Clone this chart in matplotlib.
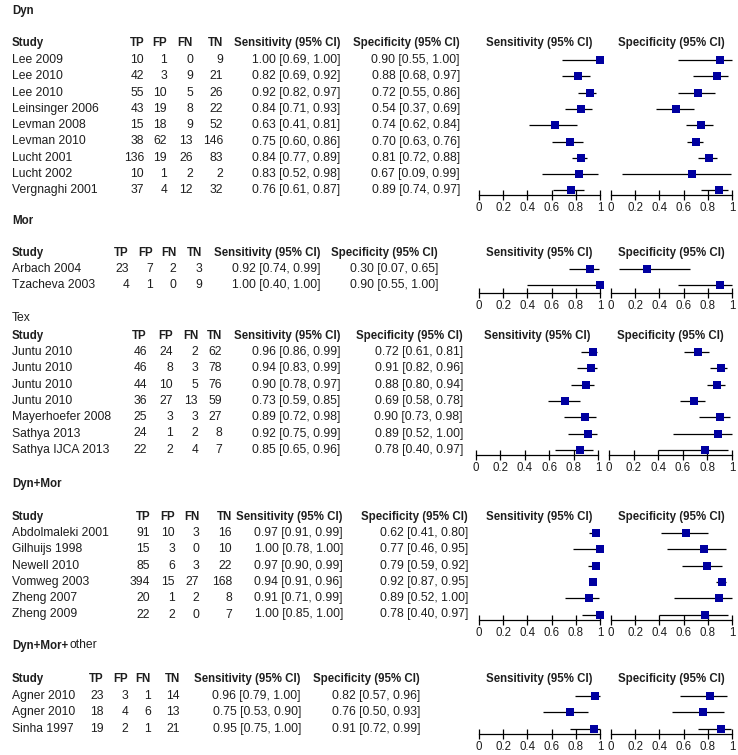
import matplotlib
matplotlib.use('Agg')
import matplotlib.pyplot as plt

plt.rcParams['font.family'] = ['Liberation Sans', 'DejaVu Sans']

# ---------------- data ----------------
dyn_study = ['Lee 2009', 'Lee 2010', 'Lee 2010', 'Leinsinger 2006', 'Levman 2008',
             'Levman 2010', 'Lucht 2001', 'Lucht 2002', 'Vergnaghi 2001']
dyn_tp = [10, 42, 55, 43, 15, 38, 136, 10, 37]
dyn_fp = [1, 3, 10, 19, 18, 62, 19, 1, 4]
dyn_fn = [0, 9, 5, 8, 9, 13, 26, 2, 12]
dyn_tn = [9, 21, 26, 22, 52, 146, 83, 2, 32]
dyn_sens = [1.00, 0.82, 0.92, 0.84, 0.63, 0.75, 0.84, 0.83, 0.76]
dyn_sens_lo = [0.69, 0.69, 0.82, 0.71, 0.41, 0.60, 0.77, 0.52, 0.61]
dyn_sens_hi = [1.00, 0.92, 0.97, 0.93, 0.81, 0.86, 0.89, 0.98, 0.87]
dyn_spec = [0.90, 0.88, 0.72, 0.54, 0.74, 0.70, 0.81, 0.67, 0.89]
dyn_spec_lo = [0.55, 0.68, 0.55, 0.37, 0.62, 0.63, 0.72, 0.09, 0.74]
dyn_spec_hi = [1.00, 0.97, 0.86, 0.69, 0.84, 0.76, 0.88, 0.99, 0.97]

mor_study = ['Arbach 2004', 'Tzacheva 2003']
mor_tp = [23, 4]
mor_fp = [7, 1]
mor_fn = [2, 0]
mor_tn = [3, 9]
mor_sens = [0.92, 1.00]
mor_sens_lo = [0.74, 0.40]
mor_sens_hi = [0.99, 1.00]
mor_spec = [0.30, 0.90]
mor_spec_lo = [0.07, 0.55]
mor_spec_hi = [0.65, 1.00]

tex_study = ['Juntu 2010', 'Juntu 2010', 'Juntu 2010', 'Juntu 2010',
             'Mayerhoefer 2008', 'Sathya 2013', 'Sathya IJCA 2013']
tex_tp = [46, 46, 44, 36, 25, 24, 22]
tex_fp = [24, 8, 10, 27, 3, 1, 2]
tex_fn = [2, 3, 5, 13, 3, 2, 4]
tex_tn = [62, 78, 76, 59, 27, 8, 7]
tex_sens = [0.96, 0.94, 0.90, 0.73, 0.89, 0.92, 0.85]
tex_sens_lo = [0.86, 0.83, 0.78, 0.59, 0.72, 0.75, 0.65]
tex_sens_hi = [0.99, 0.99, 0.97, 0.85, 0.98, 0.99, 0.96]
tex_spec = [0.72, 0.91, 0.88, 0.69, 0.90, 0.89, 0.78]
tex_spec_lo = [0.61, 0.82, 0.80, 0.58, 0.73, 0.52, 0.40]
tex_spec_hi = [0.81, 0.96, 0.94, 0.78, 0.98, 1.00, 0.97]

dm_study = ['Abdolmaleki 2001', 'Gilhuijs 1998', 'Newell 2010', 'Vomweg 2003',
            'Zheng 2007', 'Zheng 2009']
dm_tp = [91, 15, 85, 394, 20, 22]
dm_fp = [10, 3, 6, 15, 1, 2]
dm_fn = [3, 0, 3, 27, 2, 0]
dm_tn = [16, 10, 22, 168, 8, 7]
dm_sens = [0.97, 1.00, 0.97, 0.94, 0.91, 1.00]
dm_sens_lo = [0.91, 0.78, 0.90, 0.91, 0.71, 0.85]
dm_sens_hi = [0.99, 1.00, 0.99, 0.96, 0.99, 1.00]
dm_spec = [0.62, 0.77, 0.79, 0.92, 0.89, 0.78]
dm_spec_lo = [0.41, 0.46, 0.59, 0.87, 0.52, 0.40]
dm_spec_hi = [0.80, 0.95, 0.92, 0.95, 1.00, 0.97]

dmo_study = ['Agner 2010', 'Agner 2010', 'Sinha 1997']
dmo_tp = [23, 18, 19]
dmo_fp = [3, 4, 2]
dmo_fn = [1, 6, 1]
dmo_tn = [14, 13, 21]
dmo_sens = [0.96, 0.75, 0.95]
dmo_sens_lo = [0.79, 0.53, 0.75]
dmo_sens_hi = [1.00, 0.90, 1.00]
dmo_spec = [0.82, 0.76, 0.91]
dmo_spec_lo = [0.57, 0.50, 0.72]
dmo_spec_hi = [0.96, 0.93, 0.99]

tick_vals = [0, 0.2, 0.4, 0.6, 0.8, 1]
tick_labels = ['0', '0.2', '0.4', '0.6', '0.8', '1']
col_heads = ['TP', 'FP', 'FN', 'TN']

sections = [
    dict(title='Dyn', bold=True, study=dyn_study, counts=[dyn_tp, dyn_fp, dyn_fn, dyn_tn],
         sens=(dyn_sens, dyn_sens_lo, dyn_sens_hi), spec=(dyn_spec, dyn_spec_lo, dyn_spec_hi),
         cols=[144, 167, 193, 223], sens_r=340, spec_r=460, sp_x=(479, 600), pp_x=(611, 732),
         title_y=11, head_y=43, row0=60, axis_y=195),
    dict(title='Mor', bold=True, study=mor_study, counts=[mor_tp, mor_fp, mor_fn, mor_tn],
         sens=(mor_sens, mor_sens_lo, mor_sens_hi), spec=(mor_spec, mor_spec_lo, mor_spec_hi),
         cols=[129, 153, 176, 202], sens_r=321, spec_r=438, sp_x=(479, 600), pp_x=(611, 732),
         title_y=221, head_y=253, row0=269, axis_y=293),
    dict(title='Tex', bold=False, study=tex_study, counts=[tex_tp, tex_fp, tex_fn, tex_tn],
         sens=(tex_sens, tex_sens_lo, tex_sens_hi), spec=(tex_spec, tex_spec_lo, tex_spec_hi),
         cols=[147, 173, 198, 222], sens_r=340, spec_r=463, sp_x=(476, 598), pp_x=(609, 732),
         title_y=318, head_y=336, row0=352, axis_y=455),
    dict(title='Dyn+Mor', bold=True, study=dm_study, counts=[dm_tp, dm_fp, dm_fn, dm_tn],
         sens=(dm_sens, dm_sens_lo, dm_sens_hi), spec=(dm_spec, dm_spec_lo, dm_spec_hi),
         cols=[150, 175, 199, 232], sens_r=343, spec_r=468, sp_x=(479, 600), pp_x=(611, 732),
         title_y=484, head_y=517, row0=533, axis_y=620),
    dict(title='Dyn+Mor+', bold=True, study=dmo_study, counts=[dmo_tp, dmo_fp, dmo_fn, dmo_tn],
         sens=(dmo_sens, dmo_sens_lo, dmo_sens_hi), spec=(dmo_spec, dmo_spec_lo, dmo_spec_hi),
         cols=[104, 128, 151, 180], sens_r=301, spec_r=420, sp_x=(479, 600), pp_x=(611, 732),
         title_y=646, head_y=679, row0=696, axis_y=734, extra='other'),
]

# ---------------- figure ----------------
W, H = 738, 755
fig = plt.figure(figsize=(W / 100, H / 100), dpi=100)
FS = 8.7
FSB = 8.3
TXT = '#1e1e1e'
BLUE = '#0000A0'
SPACING = 16.3
STUDY_X = 12


def fx(x):
    return x / W


def fy(y):
    return 1 - y / H


def put(x, y, s, ha='left', bold=False):
    fig.text(fx(x), fy(y), s, ha=ha, va='center', fontsize=FSB if bold else FS,
             fontweight='bold' if bold else 'normal', color=TXT)


def fmt(v, lo, hi):
    return f'{v:.2f} [{lo:.2f}, {hi:.2f}]'


for sec in sections:
    put(STUDY_X, sec['title_y'], sec['title'], bold=sec['bold'])
    if 'extra' in sec:
        put(70, sec['title_y'] - 1, sec['extra'])
    hy = sec['head_y']
    put(STUDY_X, hy, 'Study', bold=True)
    for cx, h in zip(sec['cols'], col_heads):
        put(cx, hy, h, ha='right', bold=True)
    put(sec['sens_r'], hy, 'Sensitivity (95% CI)', ha='right', bold=True)
    put(sec['spec_r'], hy, 'Specificity (95% CI)', ha='right', bold=True)
    put((sec['sp_x'][0] + sec['sp_x'][1]) / 2, hy, 'Sensitivity (95% CI)', ha='center', bold=True)
    put((sec['pp_x'][0] + sec['pp_x'][1]) / 2, hy, 'Specificity (95% CI)', ha='center', bold=True)

    n = len(sec['study'])
    for i in range(n):
        y = sec['row0'] + i * SPACING
        put(STUDY_X, y, sec['study'][i])
        for cx, arr in zip(sec['cols'], sec['counts']):
            put(cx, y, str(arr[i]), ha='right')
        s, slo, shi = sec['sens']
        p, plo, phi = sec['spec']
        put(sec['sens_r'], y, fmt(s[i], slo[i], shi[i]), ha='right')
        put(sec['spec_r'], y, fmt(p[i], plo[i], phi[i]), ha='right')

    top_y = hy + 8
    axis_y = sec['axis_y']
    for (x0, x1), (est, lo, hi) in [(sec['sp_x'], sec['sens']), (sec['pp_x'], sec['spec'])]:
        ax = fig.add_axes([fx(x0), fy(axis_y), (x1 - x0) / W, (axis_y - top_y) / H])
        ax.set_xlim(0, 1)
        ax.set_ylim((axis_y - sec['row0']) / SPACING, (top_y - sec['row0']) / SPACING)
        rows = list(range(n))
        ax.hlines(rows, lo, hi, color='black', lw=0.9, clip_on=False, zorder=2)
        ax.plot(est, rows, 's', color=BLUE, markersize=5.8, markeredgewidth=0,
                clip_on=False, zorder=3)
        ax.patch.set_visible(False)
        for sp in ['top', 'left', 'right']:
            ax.spines[sp].set_visible(False)
        ax.spines['bottom'].set_linewidth(0.9)
        ax.set_yticks([])
        ax.set_xticks(tick_vals)
        ax.set_xticklabels(tick_labels)
        ax.tick_params(axis='x', direction='inout', length=7, width=0.9,
                       labelsize=FSB, pad=1.5, labelcolor=TXT)

fig.savefig('out.png', dpi=100, facecolor='white')
